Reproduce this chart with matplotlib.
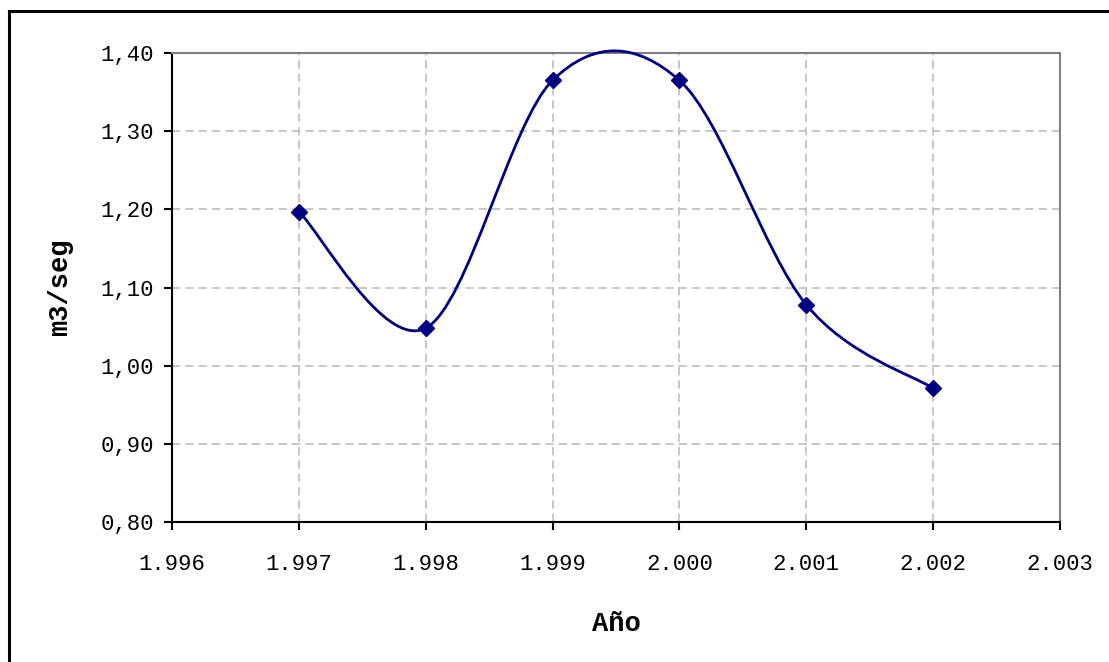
import matplotlib.pyplot as plt
import matplotlib.ticker as ticker
from matplotlib.path import Path
from matplotlib.patches import PathPatch
from matplotlib.lines import Line2D

# caudal medio anual
anios = [1997, 1998, 1999, 2000, 2001, 2002]
caudal = [1.197, 1.048, 1.365, 1.365, 1.078, 0.971]

x_ticks = [1996, 1997, 1998, 1999, 2000, 2001, 2002, 2003]
y_ticks = [0.80, 0.90, 1.00, 1.10, 1.20, 1.30, 1.40]

navy = '#000080'
plt.rcParams['font.family'] = ['Liberation Mono', 'DejaVu Sans Mono']

fig = plt.figure(figsize=(11.09, 6.62), dpi=100)
ax = fig.add_axes([0.1551, 0.2115, 0.8007, 0.7084])


def smooth_path(xs, ys):
    # curva suavizada tipo Excel: bezier cubico con tangentes de Catmull-Rom
    pts = list(zip(xs, ys))
    verts = [pts[0]]
    codes = [Path.MOVETO]
    n = len(pts)
    for i in range(n - 1):
        p0 = pts[max(i - 1, 0)]
        p1 = pts[i]
        p2 = pts[i + 1]
        p3 = pts[min(i + 2, n - 1)]
        c1 = (p1[0] + (p2[0] - p0[0]) / 6, p1[1] + (p2[1] - p0[1]) / 6)
        c2 = (p2[0] - (p3[0] - p1[0]) / 6, p2[1] - (p3[1] - p1[1]) / 6)
        verts += [c1, c2, p2]
        codes += [Path.CURVE4] * 3
    return Path(verts, codes)


ax.add_patch(PathPatch(smooth_path(anios, caudal), fill=False, edgecolor=navy,
                       lw=2.0, zorder=3, clip_on=False))
ax.plot(anios, caudal, linestyle='none', marker='D', ms=8, color=navy, zorder=4)

ax.set_xlim(1996, 2003)
ax.set_ylim(0.80, 1.40)
ax.xaxis.set_major_locator(ticker.FixedLocator(x_ticks))
ax.yaxis.set_major_locator(ticker.FixedLocator(y_ticks))
ax.xaxis.set_major_formatter(ticker.FuncFormatter(lambda v, p: f"{int(round(v)):,}".replace(',', '.')))
ax.yaxis.set_major_formatter(ticker.FuncFormatter(lambda v, p: f"{v:.2f}".replace('.', ',')))

ax.grid(True, color='#bdbdbd', linestyle=(0, (5, 3)), lw=1.2)
ax.set_axisbelow(True)

for s in ['left', 'bottom']:
    ax.spines[s].set_color('black')
    ax.spines[s].set_linewidth(1.5)
for s in ['top', 'right']:
    ax.spines[s].set_color('#808080')
    ax.spines[s].set_linewidth(1.5)

ax.tick_params(direction='out', length=6, width=1.5, labelsize=16, color='black')
ax.tick_params(axis='y', pad=7)
ax.tick_params(axis='x', pad=17)

ax.set_ylabel('m3/seg', fontsize=19.5, fontweight='bold', labelpad=20)
ax.set_xlabel('Año', fontsize=19.5, fontweight='bold', labelpad=26)

# marco del grafico
fig.add_artist(Line2D([9 / 1109, 9 / 1109], [0, 1 - 10.5 / 662], color='black', lw=2.2,
                      transform=fig.transFigure))
fig.add_artist(Line2D([9 / 1109, 1], [1 - 10.5 / 662, 1 - 10.5 / 662], color='black', lw=2.2,
                      transform=fig.transFigure))

plt.savefig('out.png', dpi=100, facecolor='w')
